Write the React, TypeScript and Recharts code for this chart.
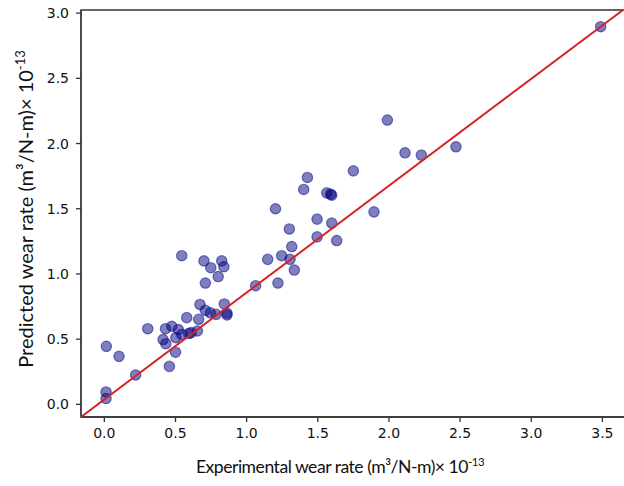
import { ReferenceArea, Scatter, ScatterChart, XAxis, YAxis } from 'recharts';

// measured (x) vs predicted (y) wear rate, x 10^-13 m3/N-m
const experimental = [
  0.014, 0.103, 0.22, 0.012, 0.012, 0.305, 0.413, 0.43, 0.432, 0.457,
  0.474, 0.5, 0.52, 0.502, 0.544, 0.544, 0.579, 0.593, 0.61, 0.654,
  0.663, 0.672, 0.7, 0.71, 0.71, 0.748, 0.745, 0.785, 0.8, 0.825,
  0.84, 0.843, 0.862, 0.862, 1.063, 1.148, 1.22, 1.203, 1.246, 1.3,
  1.305, 1.317, 1.335, 1.495, 1.495, 1.598, 1.633, 1.895, 1.75, 1.427,
  1.401, 1.563, 1.598, 1.59, 1.989, 2.113, 2.228, 2.471, 3.488,
];
const predicted = [
  0.445, 0.368, 0.225, 0.095, 0.045, 0.58, 0.497, 0.58, 0.465, 0.291,
  0.599, 0.4, 0.574, 0.512, 1.14, 0.536, 0.665, 0.543, 0.55, 0.563,
  0.652, 0.766, 1.1, 0.93, 0.721, 1.048, 0.702, 0.69, 0.98, 1.1,
  1.055, 0.77, 0.7, 0.685, 0.91, 1.112, 0.93, 1.5, 1.14, 1.345,
  1.112, 1.21, 1.03, 1.42, 1.284, 1.39, 1.256, 1.476, 1.79, 1.74,
  1.648, 1.622, 1.604, 1.612, 2.18, 1.929, 1.911, 1.975, 2.896,
];

// red reference line, corner to corner of the axes
const fitX = [-0.164, 3.645];
const fitY = [-0.097, 3.024];

const xTicks = [0, 0.5, 1, 1.5, 2, 2.5, 3, 3.5];
const yTicks = [0, 0.5, 1, 1.5, 2, 2.5, 3];
const xDomain = [-0.164, 3.68];
const yDomain = [-0.097, 3.024];

const points = experimental.map((x, i) => ({ x, y: predicted[i] }));
const fitLine = fitX.map((x, i) => ({ x, y: fitY[i] }));

const tickStyle = { fill: '#111', fontSize: 14, fontFamily: 'DejaVu Sans' };
const titleFont = 'Lato';

const XTitle = () => (
  <text x={340} y={473} textAnchor="middle" fontSize={17.6} letterSpacing={-0.5} fontFamily={titleFont} fill="#111">
    Experimental wear rate (m³/N-m)× 10
    <tspan fontSize={11.5} dy={-7}>-13</tspan>
  </text>
);

const YTitle = () => (
  <text
    x={0}
    y={0}
    transform="translate(33, 209) rotate(-90)"
    textAnchor="middle"
    fontSize={20}
    fontFamily={titleFont}
    fill="#111"
  >
    Predicted wear rate (m³/N-m)× 10
    <tspan fontSize={13} dy={-8}>-13</tspan>
  </text>
);

export default function App() {
  return (
    <div style={{ position: 'absolute', left: 0, top: 0, width: 624, height: 486, overflow: 'hidden', background: '#fff' }}>
      <ScatterChart width={628} height={486} margin={{ top: 10, right: 0, bottom: 0, left: 0 }}>
        <XAxis
          type="number"
          dataKey="x"
          domain={xDomain}
          allowDataOverflow
          ticks={xTicks}
          tickFormatter={(v: number) => v.toFixed(1)}
          height={69}
          tickSize={5}
          tickMargin={6}
          tick={tickStyle}
          stroke="#333"
          strokeWidth={1.3}
          label={{ content: XTitle }}
        />
        <YAxis
          type="number"
          dataKey="y"
          domain={yDomain}
          allowDataOverflow
          ticks={yTicks}
          tickFormatter={(v: number) => v.toFixed(1)}
          width={81}
          tickSize={5}
          tickMargin={7}
          tick={tickStyle}
          stroke="#333"
          strokeWidth={1.3}
          label={{ content: YTitle }}
        />
        <ReferenceArea
          x1={xDomain[0]}
          x2={xDomain[1]}
          y1={yDomain[0]}
          y2={yDomain[1]}
          fill="none"
          stroke="#333"
          strokeWidth={1.3}
          ifOverflow="visible"
        />
        <Scatter
          data={points}
          shape={(p: any) => (
            <circle cx={p.cx} cy={p.cy} r={5.2} fill="#000080" fillOpacity={0.5} stroke="#000080" strokeOpacity={0.5} strokeWidth={1.2} />
          )}
          isAnimationActive={false}
        />
        <Scatter
          data={fitLine}
          line={{ stroke: '#d42525', strokeWidth: 2 }}
          shape={() => <g />}
          isAnimationActive={false}
        />
      </ScatterChart>
    </div>
  );
}
